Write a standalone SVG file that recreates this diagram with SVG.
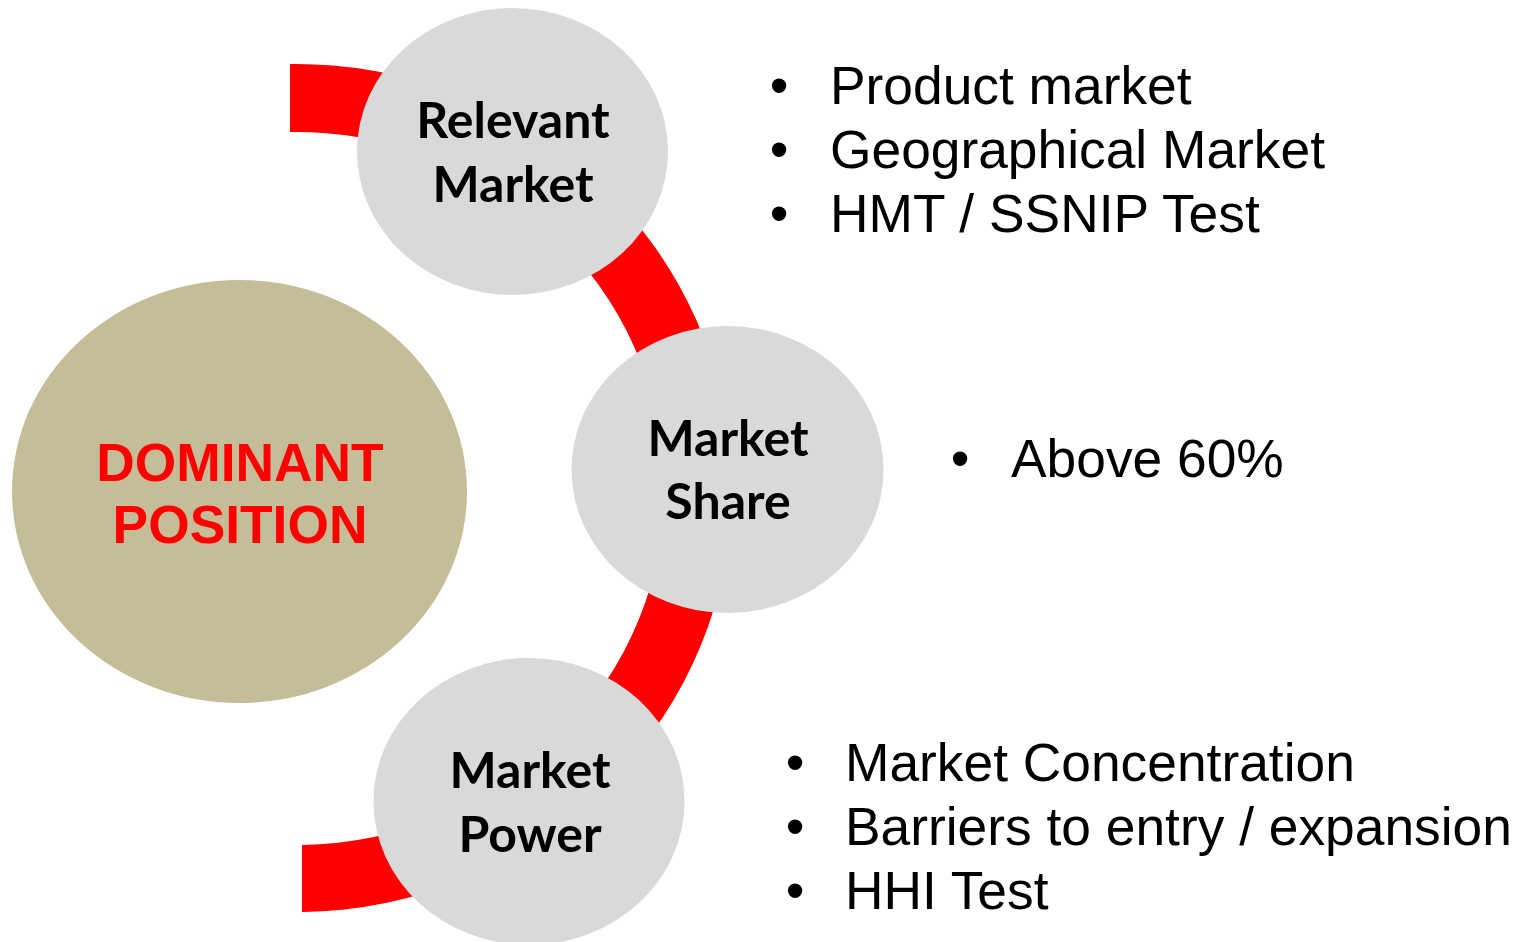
<svg xmlns="http://www.w3.org/2000/svg" width="1518" height="942" viewBox="0 0 1518 942">
<style>
.node{fill:#D9D9D9}
.lbl{font-family:Lato,"Open Sans","Liberation Sans",sans-serif;font-weight:700;font-size:50px;fill:#000;text-anchor:middle}
.bul{font-family:"Liberation Sans",Arial,sans-serif;font-size:53.33px;fill:#000}
.dot{text-anchor:middle}
.dom{font-family:"Liberation Sans",Arial,sans-serif;font-weight:700;font-size:53.33px;fill:#FF0000;text-anchor:middle}
</style>
<rect width="1518" height="942" fill="#FFFFFF"/>
<g id="connectors">
<path d="M 290 64 A 436 424 0 0 1 302 912 L 302 845 A 368 356 0 0 0 290 132 Z" fill="#FF0000"/>
</g>
<g id="dominant-position">
<ellipse cx="239.5" cy="491.5" rx="227.5" ry="211.5" fill="#C4BD97"/>
<text class="dom" x="240" y="481">DOMINANT</text>
<text class="dom" x="240" y="543">POSITION</text>
</g>
<g id="relevant-market">
<ellipse class="node" cx="512.5" cy="151.5" rx="155.5" ry="143.5"/>
<text class="lbl" x="513" y="138">Relevant</text>
<text class="lbl" x="513" y="202">Market</text>
</g>
<g id="market-share">
<ellipse class="node" cx="727.5" cy="469.5" rx="156" ry="143.5"/>
<text class="lbl" x="728" y="456">Market</text>
<text class="lbl" x="728" y="519">Share</text>
</g>
<g id="market-power">
<ellipse class="node" cx="529" cy="801.5" rx="155.5" ry="143.5"/>
<text class="lbl" x="530" y="788">Market</text>
<text class="lbl" x="530" y="852">Power</text>
</g>
<g id="relevant-market-bullets">
<text class="bul dot" x="779" y="104">•</text>
<text class="bul" x="830" y="104">Product market</text>
<text class="bul dot" x="779" y="168">•</text>
<text class="bul" x="830" y="168">Geographical Market</text>
<text class="bul dot" x="779" y="232">•</text>
<text class="bul" x="830" y="232">HMT / SSNIP Test</text>
</g>
<g id="market-share-bullets">
<text class="bul dot" x="960" y="477">•</text>
<text class="bul" x="1011" y="477">Above 60%</text>
</g>
<g id="market-power-bullets">
<text class="bul dot" x="795" y="781">•</text>
<text class="bul" x="845" y="781">Market Concentration</text>
<text class="bul dot" x="795" y="845">•</text>
<text class="bul" x="845" y="845">Barriers to entry / expansion</text>
<text class="bul dot" x="795" y="909">•</text>
<text class="bul" x="845" y="909">HHI Test</text>
</g>
</svg>
